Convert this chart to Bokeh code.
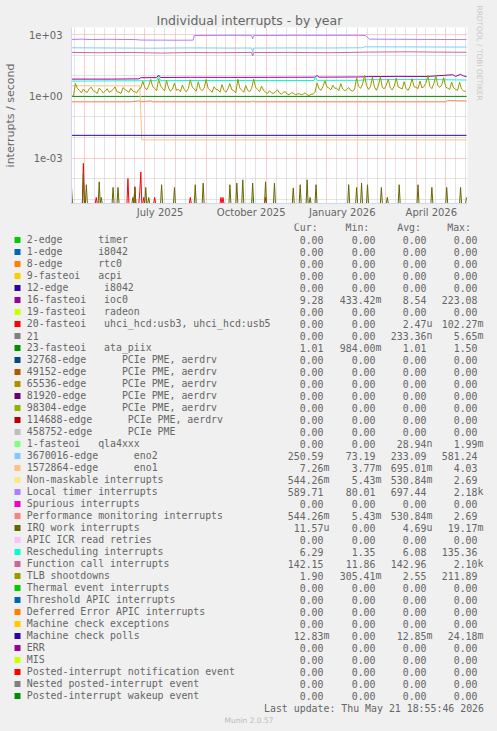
import re
import numpy as np
import pandas as pd
from bokeh.plotting import figure
from bokeh.layouts import column
from bokeh.models import (Range1d, FixedTicker, DatetimeTickFormatter,
                          CustomJSTickFormatter, Title)
from bokeh.core.properties import value
from bokeh.embed import file_html
from bokeh.resources import INLINE

# ---------------------------------------------------------------- data
START = pd.Timestamp("2025-04-18")          # left edge of the year graph
END = pd.Timestamp("2026-05-23")            # right edge
N_DAYS = 400                                # one sample per day

LABELS = [
    "2-edge      timer", "1-edge      i8042", "8-edge      rtc0", "9-fasteoi   acpi",
    "12-edge      i8042", "16-fasteoi   ioc0", "19-fasteoi   radeon",
    "20-fasteoi   uhci_hcd:usb3, uhci_hcd:usb5", "21", "23-fasteoi   ata_piix",
    "32768-edge      PCIe PME, aerdrv", "49152-edge      PCIe PME, aerdrv",
    "65536-edge      PCIe PME, aerdrv", "81920-edge      PCIe PME, aerdrv",
    "98304-edge      PCIe PME, aerdrv", "114688-edge      PCIe PME, aerdrv",
    "458752-edge      PCIe PME", "1-fasteoi   qla4xxx", "3670016-edge      eno2",
    "1572864-edge      eno1", "Non-maskable interrupts", "Local timer interrupts",
    "Spurious interrupts", "Performance monitoring interrupts", "IRQ work interrupts",
    "APIC ICR read retries", "Rescheduling interrupts", "Function call interrupts",
    "TLB shootdowns", "Thermal event interrupts", "Threshold APIC interrupts",
    "Deferred Error APIC interrupts", "Machine check exceptions", "Machine check polls",
    "ERR", "MIS", "Posted-interrupt notification event", "Nested posted-interrupt event",
    "Posted-interrupt wakeup event",
]

CUR = ["0.00", "0.00", "0.00", "0.00", "0.00", "9.28", "0.00", "0.00", "0.00", "1.01",
       "0.00", "0.00", "0.00", "0.00", "0.00", "0.00", "0.00", "0.00", "250.59", "7.26m",
       "544.26m", "589.71", "0.00", "544.26m", "11.57u", "0.00", "6.29", "142.15", "1.90",
       "0.00", "0.00", "0.00", "0.00", "12.83m", "0.00", "0.00", "0.00", "0.00", "0.00"]
MIN = ["0.00", "0.00", "0.00", "0.00", "0.00", "433.42m", "0.00", "0.00", "0.00", "984.00m",
       "0.00", "0.00", "0.00", "0.00", "0.00", "0.00", "0.00", "0.00", "73.19", "3.77m",
       "5.43m", "80.01", "0.00", "5.43m", "0.00", "0.00", "1.35", "11.86", "305.41m",
       "0.00", "0.00", "0.00", "0.00", "0.00", "0.00", "0.00", "0.00", "0.00", "0.00"]
AVG = ["0.00", "0.00", "0.00", "0.00", "0.00", "8.54", "0.00", "2.47u", "233.36n", "1.01",
       "0.00", "0.00", "0.00", "0.00", "0.00", "0.00", "0.00", "28.94n", "233.09", "695.01m",
       "530.84m", "697.44", "0.00", "530.84m", "4.69u", "0.00", "6.08", "142.96", "2.55",
       "0.00", "0.00", "0.00", "0.00", "12.85m", "0.00", "0.00", "0.00", "0.00", "0.00"]
MAX = ["0.00", "0.00", "0.00", "0.00", "0.00", "223.08", "0.00", "102.27m", "5.65m", "1.50",
       "0.00", "0.00", "0.00", "0.00", "0.00", "0.00", "0.00", "1.99m", "581.24", "4.03",
       "2.69", "2.18k", "0.00", "2.69", "19.17m", "0.00", "135.36", "2.10k", "211.89",
       "0.00", "0.00", "0.00", "0.00", "24.18m", "0.00", "0.00", "0.00", "0.00", "0.00"]

# series: (days since START, rate)
IOC0_DAYS = [0, 40, 68, 70, 86, 88, 90, 120, 160, 200, 246, 248, 250, 290, 300, 330, 360, 385, 388, 393, 396, 399]
IOC0_VALS = [7.0, 7.0, 7.2, 8.2, 8.3, 11.0, 8.4, 8.6, 8.5, 8.6, 8.7, 10.5, 8.7, 8.9, 9.3, 9.5, 9.4, 11.5, 9.5, 12.0, 10.0, 9.3]

ATA_DAYS = [0, 399]
ATA_VALS = [1.01, 1.01]

ENO2_DAYS = [0, 40, 80, 120, 160, 182, 183, 184, 220, 260, 293, 296, 330, 399]
ENO2_VALS = [235, 230, 225, 232, 228, 230, 140, 228, 232, 230, 235, 262, 260, 255]

ENO1_DAYS = [0, 69, 71, 399]
ENO1_VALS = [3.3, 3.3, 0.0077, 0.0077]

NMI_DAYS = [0, 60, 68, 70, 80, 82, 182, 183, 184, 378, 380, 399]
NMI_VALS = [0.55, 0.55, 0.6, 0.55, 0.6, 0.55, 0.55, 0.62, 0.55, 0.55, 0.63, 0.6]
PERF_DAYS = NMI_DAYS
PERF_VALS = NMI_VALS

TIMER_DAYS = [0, 10, 20, 35, 50, 65, 70, 90, 110, 123, 124, 140, 160, 182, 183, 184, 200, 230, 260, 290, 297, 301, 330, 360, 399]
TIMER_VALS = [600, 620, 590, 610, 600, 590, 560, 555, 550, 555, 930, 940, 950, 945, 640, 940, 935, 950, 945, 950, 930, 620, 610, 600, 590]

RESCHED_DAYS = [0, 60, 86, 88, 90, 130, 200, 245, 246, 248, 290, 300, 360, 399]
RESCHED_VALS = [5.6, 5.8, 5.9, 9.5, 5.9, 6.0, 6.0, 6.0, 8.5, 6.1, 6.1, 6.6, 6.7, 6.3]

FCALL_DAYS = [0, 30, 60, 90, 120, 150, 182, 183, 184, 220, 260, 300, 340, 370, 399]
FCALL_VALS = [140, 135, 140, 130, 138, 135, 140, 95, 138, 140, 135, 145, 150, 145, 142]

TLB_STEP_DAYS = 2
TLB_VALS = [1.0, 1.1, 4.3, 2.4, 2.0, 1.5, 2.3, 1.7, 1.6, 2.4, 2.8, 1.9, 1.7, 1.4, 2.6, 2.0,
            1.5, 1.8, 2.4, 1.6, 1.8, 2.2, 2.9, 1.7, 1.6, 1.4, 2.7, 2.2, 1.9, 1.6, 2.5, 1.8,
            1.7, 1.5, 2.2, 2.6,
            5.5, 2.8, 2.1, 3.4, 6.8, 3.0, 2.5, 1.9, 7.2, 3.3,
            2.4, 1.9, 6.0, 2.6, 1.8, 2.3, 4.5, 2.0, 2.2, 1.7, 3.6, 2.1, 1.7, 2.4, 6.5, 2.9,
            2.3, 1.8, 5.2, 2.4, 1.9, 2.6, 6.8, 2.5, 2.0, 1.6, 3.0, 2.2,
            2.1, 1.6, 3.8, 2.0, 1.6, 2.4, 4.2, 2.1, 1.9, 1.5,
            6.9, 2.6, 2.0, 1.6, 3.4, 2.0, 1.7, 2.5, 7.0, 2.8, 2.2, 1.7, 3.2, 2.0, 1.6, 1.4,
            1.9, 1.5, 1.4, 1.7, 2.1, 1.5, 1.3, 1.6, 1.7, 1.3, 1.2, 1.5, 1.5, 1.2, 1.3, 1.4,
            1.2, 1.3, 1.5, 1.2, 1.1, 1.3, 1.3, 1.6,
            4.6, 2.4, 2.0, 3.0, 5.8, 2.9, 2.6, 2.1, 3.5, 2.5,
            2.5, 1.9, 4.2, 2.3, 1.9, 2.2, 2.7, 2.0, 1.8, 2.3,
            7.8, 3.1, 2.5, 4.0, 10.5, 3.4, 2.2, 3.0, 8.8, 2.9,
            2.0, 3.3, 9.2, 2.7, 2.4, 3.5, 7.0, 2.6, 2.1, 3.2, 7.8, 2.9, 2.6, 2.3, 5.2, 2.4,
            2.0, 3.1, 7.4, 3.0, 2.8, 2.4, 5.6, 2.6,
            3.0, 4.4, 10.8, 3.1, 2.4, 4.2, 10.2, 3.3, 2.8, 3.6, 8.2, 2.9, 2.5, 2.2, 5.0, 2.6,
            2.2, 2.0, 4.9, 2.3, 1.9, 1.7]

MCPOLL_DAYS = [0, 399]
MCPOLL_VALS = [0.0128, 0.0128]

# sparse daily spikes (all other days are zero)
IRQWORK_SPIKE_DAYS = [0, 12, 15, 28, 30, 42, 47, 62, 64, 75, 78, 91, 104, 125, 133, 160, 167, 173,
                      183, 196, 205, 224, 231, 238, 241, 247, 280, 288, 293, 299, 313, 319, 331,
                      350, 364, 379, 393, 399]
IRQWORK_SPIKE_VALS = [3.7e-5, 1.7e-4, 5e-5, 6.9e-5, 1.2e-5, 3.7e-5, 3.7e-5, 1.2e-5, 3.7e-5, 3.7e-5,
                      1.2e-5, 5e-5, 3.7e-5, 5e-5, 6e-5, 5e-5, 6e-5, 8.7e-5, 6e-5, 6.9e-5, 6e-5,
                      3.5e-5, 5e-5, 8.7e-5, 1.2e-5, 5e-5, 5e-5, 3.7e-5, 6e-5, 5e-5, 3.7e-5,
                      1.2e-5, 5e-5, 5e-5, 3.7e-5, 3.7e-5, 3.7e-5, 1.2e-5]
USB_SPIKE_DAYS = [12, 25, 57, 64, 69, 70, 73, 84, 120, 151, 153, 196]
USB_SPIKE_VALS = [5.5e-4, 1.2e-5, 1.0e-4, 4e-5, 2.3e-5, 2.1e-4, 1.2e-5, 1.2e-5, 1.2e-5, 1.2e-5, 1.2e-5, 1.2e-5]
QLA_SPIKE_DAYS = [183]
QLA_SPIKE_VALS = [1.2e-5]

Y_TICKS = [1e-3, 1.0, 1e3]
Y_MINOR = [1e-5, 1e-4, 1e-2, 1e-1, 1e1, 1e2]

# ---------------------------------------------------------------- styles
COLORS = ["#00CC00", "#0066B3", "#FF8000", "#FFCC00", "#330099", "#990099", "#CCFF00",
          "#FF0000", "#808080", "#008F00", "#00487D", "#B35A00", "#B38F00", "#6B006B",
          "#8FB300", "#B30000", "#BEBEBE", "#80FF80", "#80C9FF", "#FFC080", "#FFE680",
          "#AA80FF", "#EE00CC", "#FF8080", "#666600", "#FFBFFF", "#00FFCC", "#CC6699",
          "#999900", "#00CC00", "#0066B3", "#FF8000", "#FFCC00", "#330099", "#990099",
          "#CCFF00", "#FF0000", "#808080", "#008F00"]
FONT = "DejaVu Sans"
MONO = "DejaVu Sans Mono"
TXT = "#666666"
BG = "#F0F0F0"
Y_MIN, Y_MAX = 6.1e-6, 2290.0
W = 497


def dates(days):
    return START + pd.to_timedelta(np.asarray(days, dtype=float), unit="D")


def ms(ts):
    return (pd.Timestamp(ts) - pd.Timestamp("1970-01-01")).total_seconds() * 1000.0


def spikes(days, vals):
    arr = np.zeros(N_DAYS)
    arr[np.asarray(days)] = vals
    return np.arange(N_DAYS), arr


SERIES = {
    5: (IOC0_DAYS, IOC0_VALS),
    7: spikes(USB_SPIKE_DAYS, USB_SPIKE_VALS),
    9: (ATA_DAYS, ATA_VALS),
    17: spikes(QLA_SPIKE_DAYS, QLA_SPIKE_VALS),
    18: (ENO2_DAYS, ENO2_VALS),
    19: (ENO1_DAYS, ENO1_VALS),
    20: (NMI_DAYS, NMI_VALS),
    21: (TIMER_DAYS, TIMER_VALS),
    23: (PERF_DAYS, PERF_VALS),
    24: spikes(IRQWORK_SPIKE_DAYS, IRQWORK_SPIKE_VALS),
    26: (RESCHED_DAYS, RESCHED_VALS),
    27: (FCALL_DAYS, FCALL_VALS),
    28: (np.arange(len(TLB_VALS)) * TLB_STEP_DAYS, TLB_VALS),
    33: (MCPOLL_DAYS, MCPOLL_VALS),
}

# ---------------------------------------------------------------- chart
p = figure(width=W, height=223, x_axis_type="datetime", y_axis_type="log",
           x_range=Range1d(START, END), y_range=Range1d(Y_MIN, Y_MAX),
           output_backend="svg", toolbar_location=None,
           min_border_left=67, min_border_right=30, min_border_top=27, min_border_bottom=20,
           background_fill_color="white", border_fill_color=BG, outline_line_color=None)

p.title.text = "Individual interrupts - by year"
p.title.align = "left"
p.title.offset = 85
p.title.text_font = FONT
p.title.text_font_size = "12.5px"
p.title.text_font_style = "normal"
p.title.text_color = TXT
p.title.standoff = 0

p.add_layout(Title(text="RRDTOOL / TOBI OETIKER", text_font=FONT, text_font_size="7.4px",
                   text_font_style="normal", text_color="#C8C8C8", align="left",
                   standoff=15, offset=-22),
             "right")

for i in range(len(LABELS)):
    days, vals = SERIES.get(i, ([0, N_DAYS - 1], [0.0, 0.0]))
    y = np.maximum(np.asarray(vals, dtype=float), Y_MIN)
    p.line(dates(days), y, line_color=COLORS[i], line_width=1)

p.yaxis.ticker = FixedTicker(ticks=Y_TICKS, minor_ticks=Y_MINOR)
p.ygrid.ticker = FixedTicker(ticks=Y_TICKS, minor_ticks=Y_MINOR)
p.yaxis.formatter = CustomJSTickFormatter(code="""
    const e = Math.round(Math.log10(tick));
    const a = Math.abs(e);
    return '1e' + (e < 0 ? '-' : '+') + (a < 10 ? '0' : '') + a;
""")
p.yaxis.axis_label = "interrupts / second"

month_starts = pd.date_range("2025-05-01", "2026-05-01", freq="MS")
minor_days = [d + pd.Timedelta(days=k) for d in pd.date_range("2025-04-01", "2026-05-01", freq="MS")
              for k in (10, 20)]
minor_days = [d for d in minor_days if START <= d <= END]
label_days = [pd.Timestamp(s) for s in ("2025-07-16 12:00", "2025-10-16 12:00",
                                        "2026-01-16 12:00", "2026-04-16 12:00")]
p.xaxis.ticker = FixedTicker(ticks=[ms(d) for d in label_days])
p.xgrid.ticker = FixedTicker(ticks=[ms(d) for d in month_starts],
                             minor_ticks=[ms(d) for d in minor_days])
fmt = "%B %Y"
p.xaxis.formatter = DatetimeTickFormatter(microseconds=fmt, milliseconds=fmt, seconds=fmt,
                                          minsec=fmt, minutes=fmt, hourmin=fmt, hours=fmt,
                                          days=fmt, months=fmt, years=fmt)

for g in (p.xgrid, p.ygrid):
    g.grid_line_color = "#E8A0A0"
    g.grid_line_dash = "1 1"
    g.minor_grid_line_color = "#C8C8C8"
    g.minor_grid_line_dash = "1 1"

for ax in (p.xaxis, p.yaxis):
    ax.axis_line_color = "#CFD6F8"
    ax.major_tick_line_color = None
    ax.minor_tick_line_color = None
    ax.major_tick_out = 0
    ax.major_tick_in = 0
    ax.major_label_text_font = FONT
    ax.major_label_text_font_size = "10px"
    ax.major_label_text_color = TXT
    ax.axis_label_text_font = FONT
    ax.axis_label_text_font_size = "11px"
    ax.axis_label_text_font_style = "normal"
    ax.axis_label_text_color = TXT
p.xaxis.major_label_standoff = 3
p.yaxis.major_label_standoff = 5
p.yaxis.axis_label_standoff = 9

# ---------------------------------------------------------------- legend panel
q = figure(width=W, height=508, x_range=Range1d(0, W), y_range=Range1d(731, 223),
           output_backend="svg", toolbar_location=None, min_border=0,
           x_axis_location=None, y_axis_location=None,
           background_fill_color=BG, border_fill_color=BG, outline_line_color=None)
q.xgrid.visible = False
q.ygrid.visible = False

rows_y = [239.4 + 12.0 * i for i in range(len(LABELS))]
mono = dict(text_font=value(MONO), text_font_size="9.9px", text_color=TXT, text_baseline="middle")

q.rect(x=17, y=rows_y, width=6, height=6, fill_color=COLORS, line_color=None)
shown = [re.sub(r" {2,}", lambda m: "\u00a0" * len(m.group()), s) for s in LABELS]
q.text(x=26.3, y=rows_y, text=shown, text_align="left", **mono)

q.text(x=[293.3, 345.0, 396.7, 446.7], y=[227.4] * 4, text=["Cur:", "Min:", "Avg:", "Max:"],
       text_align="left", **mono)

COL_END = [323.0, 375.0, 426.0, 477.0]
for cx, col in zip(COL_END, [CUR, MIN, AVG, MAX]):
    nums = [re.match(r"[-0-9.]+", s).group() for s in col]
    sufs = [s[len(n):] for s, n in zip(col, nums)]
    q.text(x=cx, y=rows_y, text=nums, text_align="right", **mono)
    sy = [y for y, s in zip(rows_y, sufs) if s]
    st = [s for s in sufs if s]
    q.text(x=cx, y=sy, text=st, text_align="left", **mono)

q.text(x=[483.5], y=[707.7], text=["Last update: Thu May 21 18:55:46 2026"],
       text_align="right", **mono)
q.text(x=[248.5], y=[719.7], text=["Munin 2.0.57"], text_align="center", text_baseline="middle",
       text_font=value(FONT), text_font_size="7.5px", text_color="#BBBBBB")

layout = column(p, column(q), spacing=0)

page_style = ("{% block preamble %}<style>html, body { margin: 0 !important; padding: 0 !important;"
              " background-color: #F0F0F0; overflow: hidden; }</style>{% endblock %}")
open("out.html", "w").write(file_html(layout, INLINE, template=page_style))
